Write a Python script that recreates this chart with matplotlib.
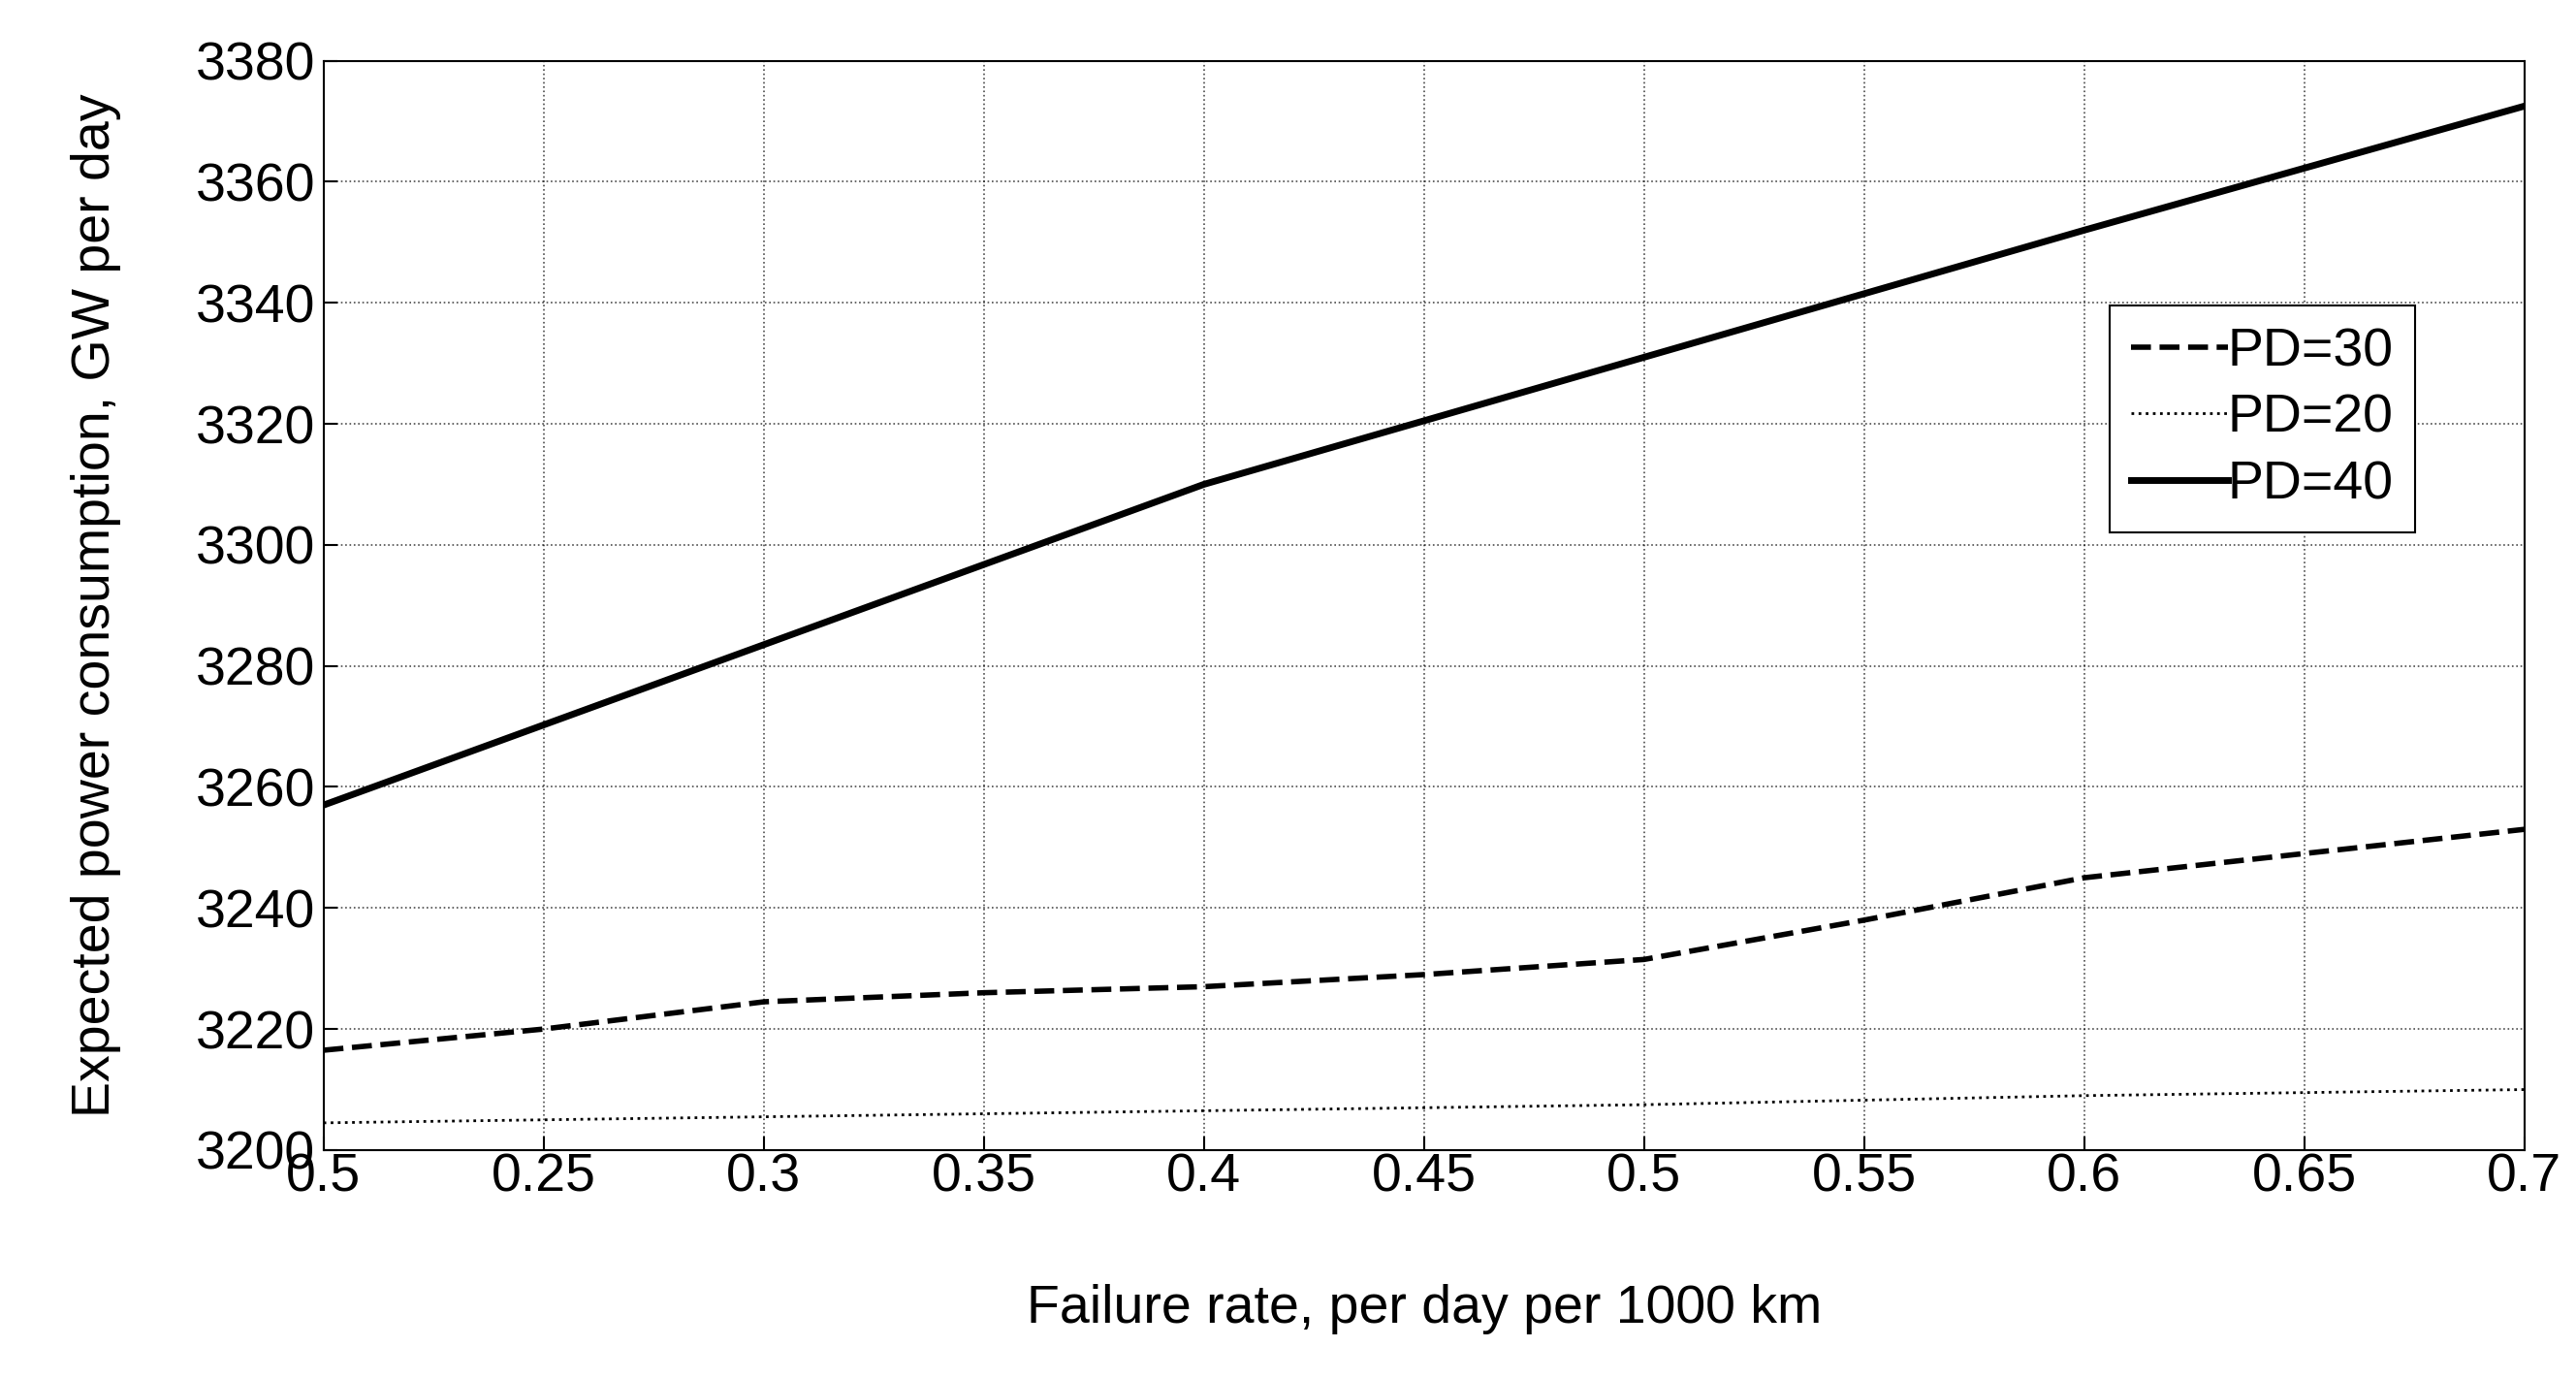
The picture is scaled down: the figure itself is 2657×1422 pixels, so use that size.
import matplotlib
matplotlib.use("Agg")
import matplotlib.pyplot as plt

x40 = [0.2, 0.3, 0.4, 0.5, 0.6, 0.7]
pd40 = [3257, 3283.5, 3310, 3331, 3352, 3372.5]
x30 = [0.2, 0.25, 0.3, 0.35, 0.4, 0.45, 0.5, 0.55, 0.6, 0.65, 0.7]
pd30 = [3216.5, 3220, 3224.5, 3226, 3227, 3229, 3231.5, 3238, 3245, 3249, 3253]
x20 = [0.2, 0.3, 0.4, 0.5, 0.6, 0.7]
pd20 = [3204.5, 3205.5, 3206.5, 3207.5, 3209, 3210]
xticks = [0.2, 0.25, 0.3, 0.35, 0.4, 0.45, 0.5, 0.55, 0.6, 0.65, 0.7]
xticklabels = ["0.5", "0.25", "0.3", "0.35", "0.4", "0.45", "0.5", "0.55", "0.6", "0.65", "0.7"]
yticks = list(range(3200, 3381, 20))

plt.rcParams['font.family'] = ['Liberation Sans', 'DejaVu Sans']
fig = plt.figure(figsize=(26.57, 14.22), dpi=100)
ax = fig.add_axes([0.1256, 0.166, 0.8544, 0.790])
ax.plot(x30, pd30, 'k--', lw=4, label='PD=30')
ax.plot(x20, pd20, 'k:', lw=2, label='PD=20')
ax.plot(x40, pd40, 'k-', lw=5, label='PD=40')
ax.set_xlim(0.2, 0.7)
ax.set_ylim(3200, 3380)
ax.set_xticks(xticks)
ax.set_xticklabels(xticklabels)
ax.set_yticks(yticks)
ax.tick_params(labelsize=40, direction='in', length=10, width=1.5)
ax.tick_params(axis='x', pad=2)
ax.tick_params(axis='y', pad=6)
for s in ax.spines.values():
    s.set_linewidth(1.5)
ax.grid(True, color='black', linestyle=':', linewidth=1.2, alpha=0.7)
ax.set_xlabel('Failure rate, per day per 1000 km', fontsize=40, labelpad=60)
ax.set_ylabel('Expected power consumption, GW per day', fontsize=40, labelpad=55)
leg = ax.legend(loc='upper right', bbox_to_anchor=(0.9625, 0.8), fontsize=40,
                fancybox=False, edgecolor='black', framealpha=1, handlelength=1.8,
                handletextpad=0.0, borderpad=0.4, labelspacing=0.3)
leg.get_frame().set_linewidth(1.5)
fig.savefig('out.png', dpi=100)
